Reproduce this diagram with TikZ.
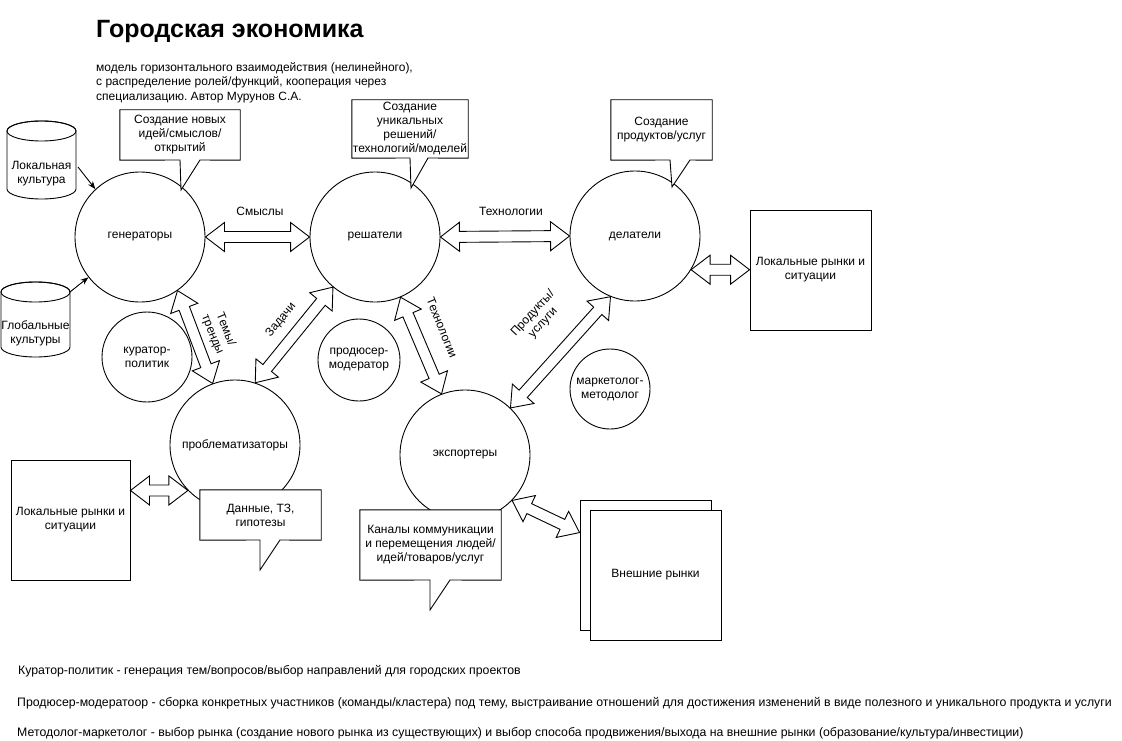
\documentclass[tikz,border=0pt]{standalone}
\usepackage{fontspec}
\setmainfont{Liberation Sans}
\usetikzlibrary{calc,arrows.meta}
\frenchspacing
\tikzset{
  every node/.style={font=\fontsize{12}{14}\selectfont, inner sep=0pt, align=center},
  bigc/.style={circle, draw, line width=0.9pt, minimum size=130pt},
  smallc/.style={circle, draw, line width=0.9pt},
  box/.style={draw, fill=white, line width=0.9pt},
  callout/.style={draw, fill=white, line width=0.9pt, line join=miter},
  blockarrow/.style={draw, fill=white, line width=0.9pt, line join=miter},
  arr/.style={draw, line width=0.9pt, -{Stealth[length=8pt,width=6pt]}},
  cyl/.style={draw, fill=white, line width=0.9pt},
  note/.style={anchor=base west, align=left, font=\fontsize{12.3}{14}\selectfont}
}
\newcommand\blockarr[2]{%
  \draw[blockarrow] (#1)
   -- ($(#1)!19pt!(#2)!14.5pt!90:(#2)$)
   -- ($(#1)!19pt!(#2)!5.5pt!90:(#2)$)
   -- ($(#2)!19pt!(#1)!5.5pt!-90:(#1)$)
   -- ($(#2)!19pt!(#1)!14.5pt!-90:(#1)$)
   -- (#2)
   -- ($(#2)!19pt!(#1)!14.5pt!90:(#1)$)
   -- ($(#2)!19pt!(#1)!5.5pt!90:(#1)$)
   -- ($(#1)!19pt!(#2)!5.5pt!-90:(#2)$)
   -- ($(#1)!19pt!(#2)!14.5pt!-90:(#2)$)
   -- cycle;}
\begin{document}
\begin{tikzpicture}[x=1pt,y=-1pt]
\useasboundingbox (0,0) rectangle (1122,741);

% title and subtitle
\node[anchor=base west, font=\bfseries\fontsize{25}{29}\selectfont] (title) at (96,38) {Городская экономика};
\node[anchor=north west, align=left, font=\fontsize{12}{14.5}\selectfont] (sub) at (96,62)
  {модель горизонтального взаимодействия (нелинейного),\\с распределение ролей/функций, кооперация через\\специализацию. Автор Мурунов С.А.};

% cylinders
\draw[cyl] (7,131) -- (7,189) arc[start angle=180, end angle=360, x radius=34.5pt, y radius=10pt]
  -- (76,131) arc[start angle=0, end angle=180, x radius=34.5pt, y radius=10pt] -- cycle;
\draw[line width=0.9pt] (41.5,131) ellipse[x radius=34.5pt, y radius=10pt];
\node (lc) at (41.5,174) {Локальная\\культура};
\draw[cyl] (1,292) -- (1,347) arc[start angle=180, end angle=360, x radius=34.5pt, y radius=10pt]
  -- (70,292) arc[start angle=0, end angle=180, x radius=34.5pt, y radius=10pt] -- cycle;
\draw[line width=0.9pt] (35.5,292) ellipse[x radius=34.5pt, y radius=10pt];
\node (gc) at (35.5,333) {Глобальные\\культуры};

% circles
\node[bigc] (gen) at (140,237) {генераторы};
\node[bigc] (res) at (375,237) {решатели};
\node[bigc] (del) at (635,236) {делатели};
\node[bigc] (prob) at (235,445) {проблематизаторы};
\node[bigc] (exp) at (465,455) {экспортеры};
\node[smallc, minimum size=90pt] (cur) at (147,357) {куратор-\\политик};
\node[smallc, minimum size=82pt] (prod) at (359,360) {продюсер-\\модератор};
\node[smallc, minimum size=80pt] (mark) at (610,389) {маркетолог-\\методолог};

% boxes
\node[box, minimum width=121pt, minimum height=120pt] (rmR) at (810.5,270) {Локальные рынки и\\ситуации};
\node[box, minimum width=119pt, minimum height=120pt] (rmL) at (70.5,520) {Локальные рынки и\\ситуации};
\node[box, minimum width=131pt, minimum height=130pt] (extB) at (645.5,565) {};
\node[box, minimum width=131pt, minimum height=130pt] (extF) at (655.5,575) {Внешние рынки};

% simple arrows
\coordinate (lcA) at (78,167);
\coordinate (gcA) at (70,292);
\draw[arr] (lcA) -- (gen.133);
\draw[arr] (gcA) -- (gen.218);

% block arrows
\coordinate (aR) at (del.329 -| rmR.west);
\coordinate (aL) at (prob.224 -| rmL.east);
\coordinate (aE) at ($(extB.north west)+(0,33)$);
\blockarr{gen.east}{res.west}
\blockarr{res.east}{del.west}
\blockarr{del.329}{aR}
\blockarr{gen.305}{prob.110}
\blockarr{prob.72}{res.230}
\blockarr{res.293}{exp.111}
\blockarr{exp.46}{del.248}
\blockarr{aL}{prob.224}
\blockarr{exp.316}{aE}

% arrow labels
\node (lSm) at (260,211) {Смыслы};
\node (lTh) at (511,211) {Технологии};
\node[rotate=-68] (lTe) at (219,332) {Темы/\\тренды};
\node[rotate=51] (lZa) at (281,320) {Задачи};
\node[rotate=-68] (lTv) at (442,328) {Технологии};
\node[rotate=47] (lPr) at (538,318) {Продукты/\\услуги};

% callouts
\path (180,135) node[minimum width=120pt, minimum height=50pt] (c1) {};
\draw[callout] (c1.south west) -- (c1.north west) -- (c1.north east) -- (c1.south east)
  -- (200,160) -- (181,190) -- (180,160) -- cycle;
\node (c1t) at (c1) {Создание новых\\идей/смыслов/\\открытий};

\path (410,129) node[minimum width=116pt, minimum height=58pt] (c2) {};
\draw[callout] (c2.south west) -- (c2.north west) -- (c2.north east) -- (c2.south east)
  -- (428,158) -- (411,188) -- (410,158) -- cycle;
\node (c2t) at (c2) {Создание\\уникальных\\решений/\\технологий/моделей};

\path (661.5,130) node[minimum width=101pt, minimum height=60pt] (c3) {};
\draw[callout] (c3.south west) -- (c3.north west) -- (c3.north east) -- (c3.south east)
  -- (690,160) -- (672,187) -- (670,160) -- cycle;
\node (c3t) at (c3) {Создание\\продуктов/услуг};

\path (260.5,515) node[minimum width=121pt, minimum height=50pt] (c4) {};
\draw[callout] (c4.south west) -- (c4.north west) -- (c4.north east) -- (c4.south east)
  -- (280,540) -- (260,570) -- (260,540) -- cycle;
\node (c4t) at (c4) {Данные, ТЗ,\\гипотезы};

\path (430.5,545) node[minimum width=141pt, minimum height=70pt] (c5) {};
\draw[callout] (c5.south west) -- (c5.north west) -- (c5.north east) -- (c5.south east)
  -- (450,580) -- (430,610) -- (430,580) -- cycle;
\node (c5t) at (c5) {Каналы коммуникации\\и перемещения людей/\\идей/товаров/услуг};

% notes
\node[note] (n1) at (18,674) {Куратор-политик - генерация тем/вопросов/выбор направлений для городских проектов};
\node[note] (n2) at (17,706) {Продюсер-модератоор - сборка конкретных участников (команды/кластера) под тему, выстраивание отношений для достижения изменений в виде полезного и уникального продукта и услуги};
\node[note] (n3) at (17,736) {Методолог-маркетолог - выбор рынка (создание нового рынка из существующих) и выбор способа продвижения/выхода на внешние рынки (образование/культура/инвестиции)};
\end{tikzpicture}
\end{document}
